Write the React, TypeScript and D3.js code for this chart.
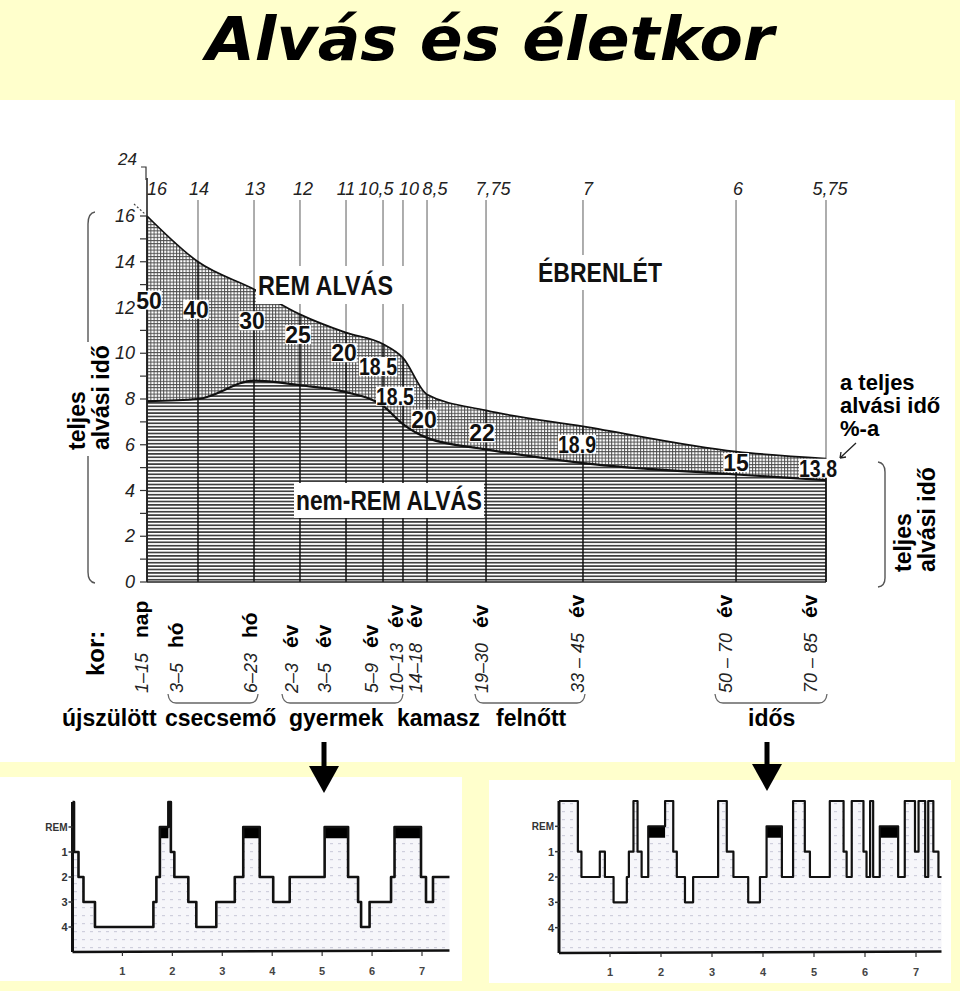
import React, { useEffect, useRef } from "react";
import * as d3 from "d3";

// ---------- DATA ----------
const ageNumbers = ["1–15", "3–5", "6–23", "2–3", "3–5", "5–9", "10–13", "14–18", "19–30", "33 – 45", "50 – 70", "70 – 85"];
const ageUnits = ["nap", "hó", "hó", "év", "év", "év", "év", "év", "év", "év", "év", "év"];
// relative position of each age group along the horizontal axis (non-linear age axis)
const agePos = [0, 0.0751, 0.1576, 0.2253, 0.2931, 0.3476, 0.377, 0.4124, 0.4993, 0.6421, 0.8675, 1];
const totalLabels = ["16", "14", "13", "12", "11", "10,5", "10", "8,5", "7,75", "7", "6", "5,75"];
// total sleep (hours) as drawn
const totalSleep = [16, 14, 12.8, 11.7, 10.9, 10.4, 9.8, 8.2, 7.5, 6.8, 5.7, 5.4];
// non-REM sleep (hours) as drawn
const nonRemSleep = [7.9, 8.0, 8.8, 8.6, 8.3, 7.7, 6.9, 6.3, 5.8, 5.2, 4.7, 4.45];
const remPercent = ["50", "40", "30", "25", "20", "18.5", "18.5", "20", "22", "18.9", "15", "13.8"];
const remLabelLevel = [12.3, 11.9, 11.4, 10.8, 10.0, 9.4, 8.1, 7.1, 6.5, 6.0, 5.2, 4.95];
const yTicks = d3.range(0, 17);
const groupLabels = ["újszülött", "csecsemő", "gyermek", "kamasz", "felnőtt", "idős"];

const hypnoLevels = ["REM", "1", "2", "3", "4"];
const hypnoHours = [1, 2, 3, 4, 5, 6, 7];
const childTimes = [0, 0.03, 0.12, 0.22, 0.45, 1.62, 1.68, 1.75, 1.92, 1.97, 2.04, 2.32, 2.48, 2.88, 3.25, 3.42, 3.75, 4.02, 4.35, 5.05, 5.52, 5.72, 5.78, 5.95, 6.38, 6.45, 6.98, 7.08, 7.22];
const childStages = ["W", "1", "2", "3", "4", "3", "2", "REM", "W", "1", "2", "3", "4", "3", "2", "REM", "2", "3", "2", "REM", "2", "3", "4", "3", "2", "REM", "2", "3", "2"];
const childEnd = 7.55;
const elderTimes = [0, 0.37, 0.44, 0.8, 0.9, 1.07, 1.33, 1.37, 1.46, 1.54, 1.62, 1.75, 2.08, 2.24, 2.31, 2.47, 2.63, 3.12, 3.29, 3.42, 3.71, 3.94, 4.07, 4.37, 4.59, 4.82, 4.92, 5.31, 5.58, 5.64, 5.74, 5.97, 6.03, 6.1, 6.16, 6.29, 6.65, 6.78, 6.98, 7.05, 7.18, 7.24, 7.34, 7.44];
const elderStages = ["W", "1", "2", "1", "2", "3", "2", "1", "W", "1", "2", "REM", "W", "1", "2", "3", "2", "W", "1", "2", "3", "2", "REM", "2", "W", "1", "2", "W", "1", "2", "W", "1", "2", "W", "2", "REM", "2", "W", "1", "W", "2", "W", "1", "2"];
const elderEnd = 7.5;

// ---------- LAYOUT ----------
const W = 960, H = 991;
const NARROW = "'Liberation Sans Narrow','Arial Narrow','Liberation Sans',Arial,sans-serif";
const SANS = "'Liberation Sans',Arial,Helvetica,sans-serif";
const topLabelShift = [10, 1, 1, 3, 0, -7, 6, 8, 7, 5, 2, 4];
const remLabelShift = [2, -2, -2, -2, -2, -5, -8, -3, -4, -6, 0, -8];
const ageLabelShift = [1, -15, 3, -2, -15, -5, 0, -5, 2, 1, -4, -9];
const groupStartX = [62, 165, 289, 397, 496, 748];
const groupBraces: [number, number][] = [[168, 258], [282, 403], [475, 585], [715, 827]];

const stageLevel: Record<string, number> = { W: 0, REM: 1, "1": 2, "2": 3, "3": 4, "4": 5 };

function drawHypno(
  root: d3.Selection<SVGGElement, unknown, null, undefined>,
  times: number[], stages: string[], tEnd: number,
  xr: [number, number], yr: [number, number], lineW: number
) {
  const hx = d3.scaleLinear().domain([0, 7]).range(xr);
  const hy = d3.scaleLinear().domain([0, 6]).range(yr);
  const pts = times.map((t, i) => ({ t, v: stageLevel[stages[i]] }));
  pts.push({ t: tEnd, v: pts[pts.length - 1].v });
  const g = root.append("g");
  const area = d3.area<{ t: number; v: number }>()
    .x(d => hx(d.t)).y0(hy(6)).y1(d => hy(d.v)).curve(d3.curveStepAfter);
  g.append("path").datum(pts).attr("d", area).attr("fill", "url(#dots)");
  pts.forEach((p, i) => {
    if (i < pts.length - 1 && stages[i] === "REM") {
      g.append("rect").attr("x", hx(p.t)).attr("y", hy(1))
        .attr("width", hx(pts[i + 1].t) - hx(p.t)).attr("height", (hy(2) - hy(1)) * 0.45)
        .attr("fill", "#000");
    }
  });
  const line = d3.line<{ t: number; v: number }>().x(d => hx(d.t)).y(d => hy(d.v)).curve(d3.curveStepAfter);
  g.append("path").datum(pts).attr("d", line).attr("fill", "none")
    .attr("stroke", "#111").attr("stroke-width", lineW).attr("stroke-linejoin", "round");
  g.append("line").attr("x1", hx(0)).attr("x2", hx(0)).attr("y1", hy(0)).attr("y2", hy(6))
    .attr("stroke", "#111").attr("stroke-width", 3);
  g.append("line").attr("x1", hx(0)).attr("x2", hx(tEnd)).attr("y1", hy(6)).attr("y2", hy(6) - 1.5)
    .attr("stroke", "#111").attr("stroke-width", 2.5);
  hypnoLevels.forEach((l, i) => {
    const yy = hy(i + 1);
    g.append("line").attr("x1", hx(0) - 4).attr("x2", hx(0)).attr("y1", yy).attr("y2", yy)
      .attr("stroke", "#333").attr("stroke-width", 1.5);
    g.append("text").attr("x", hx(0) - 5).attr("y", yy + 4).attr("text-anchor", "end")
      .attr("font-family", SANS).attr("font-weight", "bold").attr("font-size", l === "REM" ? 10 : 11)
      .attr("fill", "#333").text(l);
  });
  hypnoHours.forEach(h => {
    g.append("line").attr("x1", hx(h)).attr("x2", hx(h)).attr("y1", hy(6)).attr("y2", hy(6) + 4)
      .attr("stroke", "#333").attr("stroke-width", 1.2);
    g.append("text").attr("x", hx(h)).attr("y", hy(6) + 23).attr("text-anchor", "middle")
      .attr("font-family", SANS).attr("font-weight", "bold").attr("font-size", 11)
      .attr("fill", "#444").text(String(h));
  });
}

export default function App() {
  const ref = useRef<SVGSVGElement>(null);
  useEffect(() => {
    if (!ref.current) return;
    const svg = d3.select(ref.current);
    svg.selectAll("*").remove();
    const defs = svg.append("defs");
    const pRem = defs.append("pattern").attr("id", "remHatch").attr("patternUnits", "userSpaceOnUse")
      .attr("width", 3.2).attr("height", 3.2);
    pRem.append("rect").attr("width", 3.2).attr("height", 3.2).attr("fill", "#fff");
    pRem.append("path").attr("d", "M0,0.5H3.2M0.5,0V3.2").attr("stroke", "#4a4a4a").attr("stroke-width", 0.95);
    const pN = defs.append("pattern").attr("id", "nremHatch").attr("patternUnits", "userSpaceOnUse")
      .attr("width", 4).attr("height", 3.4);
    pN.append("rect").attr("width", 4).attr("height", 3.4).attr("fill", "#fff");
    pN.append("path").attr("d", "M0,1.7H4").attr("stroke", "#2e2e2e").attr("stroke-width", 1.55);
    const pD = defs.append("pattern").attr("id", "dots").attr("patternUnits", "userSpaceOnUse")
      .attr("width", 8).attr("height", 8);
    pD.append("rect").attr("width", 8).attr("height", 8).attr("fill", "#f6f6fa");
    pD.append("rect").attr("x", 2).attr("y", 3).attr("width", 3).attr("height", 1.2).attr("fill", "#cfcfdd");

    svg.append("rect").attr("width", W).attr("height", H).attr("fill", "#ffffcc");
    svg.append("rect").attr("x", 0).attr("y", 100).attr("width", 955).attr("height", 662).attr("fill", "#fff");
    svg.append("rect").attr("x", 0).attr("y", 777).attr("width", 462).attr("height", 204).attr("fill", "#fff");
    svg.append("rect").attr("x", 489).attr("y", 780).attr("width", 462).attr("height", 203).attr("fill", "#fff");

    svg.append("text").attr("x", 206).attr("y", 60).attr("font-family", "'DejaVu Sans',sans-serif")
      .attr("font-weight", "bold").attr("font-style", "italic").attr("font-size", 60)
      .attr("textLength", 568).attr("lengthAdjust", "spacingAndGlyphs").attr("fill", "#000")
      .text("Alvás és életkor");

    const x = d3.scaleLinear().domain([0, 1]).range([147, 826]);
    const y = d3.scaleLinear().domain([0, 16]).range([582, 216]);
    const idx = d3.range(agePos.length);
    const g = svg.append("g");
    g.append("path").datum(idx)
      .attr("d", d3.area<number>().x(i => x(agePos[i])).y0(() => y(0)).y1(i => y(nonRemSleep[i])).curve(d3.curveMonotoneX))
      .attr("fill", "url(#nremHatch)");
    g.append("path").datum(idx)
      .attr("d", d3.area<number>().x(i => x(agePos[i])).y0(i => y(nonRemSleep[i])).y1(i => y(totalSleep[i])).curve(d3.curveMonotoneX))
      .attr("fill", "url(#remHatch)");

    idx.forEach(i => {
      const xx = x(agePos[i]);
      if (i > 0) {
        g.append("line").attr("x1", xx).attr("x2", xx).attr("y1", 200).attr("y2", y(totalSleep[i]))
          .attr("stroke", "#777").attr("stroke-width", 1.2);
      }
      g.append("line").attr("x1", xx).attr("x2", xx).attr("y1", y(totalSleep[i])).attr("y2", y(0))
        .attr("stroke", "#111").attr("stroke-width", i === idx.length - 1 ? 1.8 : 1.5);
    });

    g.append("path").datum(idx)
      .attr("d", d3.line<number>().x(i => x(agePos[i])).y(i => y(totalSleep[i])).curve(d3.curveMonotoneX))
      .attr("fill", "none").attr("stroke", "#111").attr("stroke-width", 1.7);
    g.append("path").datum(idx)
      .attr("d", d3.line<number>().x(i => x(agePos[i])).y(i => y(nonRemSleep[i])).curve(d3.curveMonotoneX))
      .attr("fill", "none").attr("stroke", "#111").attr("stroke-width", 2.2);

    g.append("line").attr("x1", x(0)).attr("x2", x(0)).attr("y1", 178).attr("y2", y(0))
      .attr("stroke", "#222").attr("stroke-width", 1.6);
    g.append("path").attr("d", `M${x(0) - 6},167H${x(0) - 1}V180`).attr("fill", "none")
      .attr("stroke", "#333").attr("stroke-width", 1.2);
    g.append("line").attr("x1", x(0)).attr("x2", x(1)).attr("y1", y(0)).attr("y2", y(0))
      .attr("stroke", "#222").attr("stroke-width", 1.6);
    yTicks.forEach(v => {
      g.append("line").attr("x1", x(0) - 7).attr("x2", x(0)).attr("y1", y(v)).attr("y2", y(v))
        .attr("stroke", "#333").attr("stroke-width", 1.2);
      if (v % 2 === 0) {
        g.append("text").attr("x", x(0) - 12).attr("y", y(v) + 6).attr("text-anchor", "end")
          .attr("font-family", SANS).attr("font-style", "italic").attr("font-size", 18)
          .attr("fill", "#222").text(String(v));
      }
    });
    g.append("text").attr("x", x(0) - 10).attr("y", 165).attr("text-anchor", "end")
      .attr("font-family", SANS).attr("font-style", "italic").attr("font-size", 17)
      .attr("fill", "#222").text("24");
    g.append("line").attr("x1", x(0) - 13).attr("x2", x(0) - 2).attr("y1", 204).attr("y2", y(16) - 2)
      .attr("stroke", "#444").attr("stroke-width", 1.2).attr("stroke-dasharray", "2,2");

    totalLabels.forEach((t, i) => {
      g.append("text").attr("x", x(agePos[i]) + topLabelShift[i]).attr("y", 195).attr("text-anchor", "middle")
        .attr("font-family", SANS).attr("font-style", "italic").attr("font-size", 18)
        .attr("fill", "#222").text(t);
    });

    const boxed = (px: number, py: number, txt: string, size: number, weight: string, family: string,
      len: number | null, pad: [number, number, number, number], anchor = "start") => {
      const bg = g.append("rect").attr("fill", "#fff");
      const t = g.append("text").attr("x", px).attr("y", py).attr("font-family", family)
        .attr("text-anchor", anchor)
        .attr("font-size", size).attr("font-weight", weight).attr("fill", "#111").text(txt);
      if (len) t.attr("textLength", len).attr("lengthAdjust", "spacingAndGlyphs");
      const bb = (t.node() as SVGTextElement).getBBox();
      bg.attr("x", bb.x - pad[3]).attr("y", bb.y - pad[0])
        .attr("width", bb.width + pad[1] + pad[3]).attr("height", bb.height + pad[0] + pad[2]);
      return t;
    };

    remPercent.forEach((p, i) => {
      boxed(x(agePos[i]) + remLabelShift[i], y(remLabelLevel[i]) + 8, p, 23, "bold", SANS,
        p.includes(".") ? 38 : null, [-3, 0, -4, 0], "middle");
    });

    boxed(258, 295, "REM ALVÁS", 28, "bold", NARROW, 135, [4, 12, 3, 2]);
    boxed(538, 282, "ÉBRENLÉT", 27, "bold", NARROW, 124, [2, 2, 2, 2]);
    boxed(296, 510, "nem-REM ALVÁS", 27, "bold", NARROW, 186, [2, 2, 2, 2]);

    const leftLab = svg.append("text").attr("transform", "translate(85,450) rotate(-90)")
      .attr("font-family", SANS).attr("font-weight", "bold").attr("font-size", 23).attr("fill", "#000");
    leftLab.append("tspan").attr("x", 0).attr("y", 0).text("teljes");
    leftLab.append("tspan").attr("x", 0).attr("dy", 24).text("alvási idő");
    svg.append("path").attr("d", "M95,212 Q88,213 88,224 V342 M88,456 V572 Q88,582 95,583")
      .attr("fill", "none").attr("stroke", "#555").attr("stroke-width", 1.4);

    const rl = svg.append("text").attr("font-family", SANS).attr("font-weight", "bold")
      .attr("font-size", 22).attr("fill", "#000");
    rl.append("tspan").attr("x", 840).attr("y", 390).text("a teljes");
    rl.append("tspan").attr("x", 840).attr("y", 413).text("alvási idő");
    rl.append("tspan").attr("x", 840).attr("y", 436).text("%-a");
    svg.append("path").attr("d", "M856,443 L840,458 M840,458 l1,-6 M840,458 l6,-1")
      .attr("fill", "none").attr("stroke", "#222").attr("stroke-width", 1.3);
    const rightLab = svg.append("text").attr("transform", "translate(911,572) rotate(-90)")
      .attr("font-family", SANS).attr("font-weight", "bold").attr("font-size", 23).attr("fill", "#000");
    rightLab.append("tspan").attr("x", 0).attr("y", 0).text("teljes");
    rightLab.append("tspan").attr("x", 0).attr("dy", 24).text("alvási idő");
    svg.append("path").attr("d", "M878,462 Q885,463 885,472 V578 Q885,586 878,587")
      .attr("fill", "none").attr("stroke", "#555").attr("stroke-width", 1.4);

    svg.append("text").attr("transform", "translate(104,676) rotate(-90)")
      .attr("font-family", SANS).attr("font-weight", "bold").attr("font-size", 24).attr("fill", "#000")
      .text("kor:");
    ageNumbers.forEach((n, i) => {
      const t = svg.append("text")
        .attr("transform", `translate(${x(agePos[i]) + ageLabelShift[i]},693) rotate(-90)`);
      t.append("tspan").attr("font-family", SANS).attr("font-style", "italic").attr("font-size", 18)
        .attr("fill", "#222").text(n);
      t.append("tspan").attr("dx", 15).attr("font-family", SANS).attr("font-weight", "bold")
        .attr("font-size", 21).attr("fill", "#000").text(ageUnits[i]);
    });
    groupBraces.forEach(([a, b]) => {
      svg.append("path").attr("d", `M${a},694 Q${a + 1},703 ${a + 8},703 H${b - 8} Q${b - 1},703 ${b},694`)
        .attr("fill", "none").attr("stroke", "#666").attr("stroke-width", 1.3);
    });
    groupLabels.forEach((l, i) => {
      svg.append("text").attr("x", groupStartX[i]).attr("y", 726).attr("font-family", SANS)
        .attr("font-weight", "bold").attr("font-size", 23).attr("fill", "#000").text(l);
    });

    const hg = svg.append("g");
    drawHypno(hg, childTimes, childStages, childEnd, [72.5, 422], [802, 952], 2.6);
    drawHypno(hg, elderTimes, elderStages, elderEnd, [559, 916], [801, 953], 2.2);

    [[324, 742, 793], [767, 742, 791]].forEach(([ax, y0, y1]) => {
      svg.append("rect").attr("x", ax - 2.5).attr("y", y0).attr("width", 5).attr("height", y1 - y0 - 24).attr("fill", "#000");
      svg.append("path").attr("d", `M${ax - 15},${y1 - 27} L${ax + 15},${y1 - 27} L${ax},${y1} Z`).attr("fill", "#000");
    });
  }, []);
  return (
    <svg ref={ref} width={W} height={H} viewBox={`0 0 ${W} ${H}`}
      style={{ position: "absolute", left: 0, top: 0, display: "block" }} />
  );
}
